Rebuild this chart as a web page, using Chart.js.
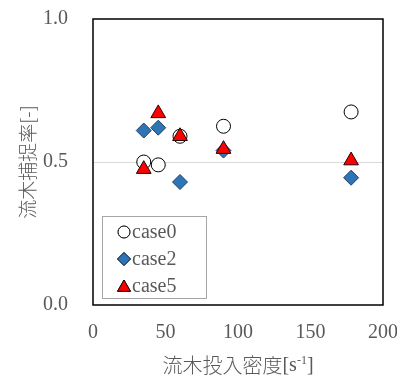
<!DOCTYPE html>
<html>
<head>
<meta charset="utf-8">
<script src="https://cdn.jsdelivr.net/npm/chart.js@4/dist/chart.umd.min.js"></script>
<style>
  html, body { margin: 0; padding: 0; background: #fff; }
  #wrap { width: 397px; height: 376px; }
</style>
</head>
<body>
<div id="wrap"><canvas id="c" width="397" height="376"></canvas></div>
<script>
// Debris input density [1/s] for each run
const density = [35, 45, 60, 90, 178];
// Capture ratio per case
const case0 = [0.50, 0.49, 0.59, 0.625, 0.675];
const case2 = [0.61, 0.62, 0.43, 0.54, 0.445];
const case5 = [0.475, 0.67, 0.59, 0.545, 0.505];
const seriesNames = ['case0', 'case2', 'case5'];
const yTicks = [0, 0.5, 1.0];
const xTicks = [0, 50, 100, 150, 200];

const textGray = '#595959';
const serif = '"Liberation Serif", "Times New Roman", serif';
const cjk = '"Noto Sans CJK JP", "Noto Sans CJK SC", sans-serif';

function pts(ys) { return density.map((x, i) => ({ x: x, y: ys[i] })); }

// Frame around the plotting area
const framePlugin = {
  id: 'frame',
  afterDatasetsDraw(chart) {
    const { ctx, chartArea: a } = chart;
    ctx.save();
    ctx.strokeStyle = '#000';
    ctx.lineWidth = 1.5;
    ctx.strokeRect(a.left, a.top, a.right - a.left, a.bottom - a.top);
    ctx.restore();
  }
};

// Boxed legend placed in the lower-left corner of the plot
const boxLegend = {
  id: 'boxLegend',
  afterDraw(chart) {
    const { ctx, chartArea: a } = chart;
    const bx = a.left + 9, by = a.bottom - 89, bw = 104, bh = 82;
    ctx.save();
    ctx.fillStyle = '#fff';
    ctx.fillRect(bx, by, bw, bh);
    ctx.strokeStyle = '#a6a6a6';
    ctx.lineWidth = 1;
    ctx.strokeRect(bx + 0.5, by + 0.5, bw, bh);
    const sizes = [6, 6.5, 7.5];
    // legend follows the series order, not the drawing order
    const list = seriesNames.map(n => chart.data.datasets.find(d => d.label === n));
    list.forEach((ds, i) => {
      const cy = by + 16 + i * 27;
      const cx = bx + 22;
      Chart.helpers.drawPoint(ctx, {
        pointStyle: ds.pointStyle,
        radius: sizes[i],
        borderWidth: ds.borderWidth,
        rotation: 0
      }, cx, cy + (ds.pointStyle === 'triangle' ? 1.5 : 0));
      ctx.fillStyle = ds.backgroundColor;
      ctx.strokeStyle = ds.borderColor;
      ctx.lineWidth = ds.borderWidth;
      ctx.fill();
      ctx.stroke();
      ctx.fillStyle = textGray;
      ctx.font = '20px ' + serif;
      ctx.textBaseline = 'middle';
      ctx.textAlign = 'left';
      ctx.fillText(ds.label, cx + 8, cy + 1);
    });
    ctx.restore();
  }
};

// X-axis title with a superscript unit
const xTitle = {
  id: 'xTitle',
  afterDraw(chart) {
    const { ctx, chartArea: a } = chart;
    const main = '流木投入密度';
    ctx.save();
    ctx.fillStyle = textGray;
    ctx.textBaseline = 'middle';
    ctx.textAlign = 'left';
    const fMain = '300 20px ' + cjk;
    const fUnit = '20px ' + serif;
    const fSup = '12px ' + serif;
    ctx.font = fMain; const w1 = ctx.measureText(main).width;
    ctx.font = fUnit; const w2 = ctx.measureText('[s').width;
    ctx.font = fSup; const w3 = ctx.measureText('-1').width;
    ctx.font = fUnit; const w4 = ctx.measureText(']').width;
    const total = w1 + w2 + w3 + w4;
    let x = (a.left + a.right) / 2 - total / 2;
    const mid = 365;
    ctx.font = fMain; ctx.fillText(main, x, mid); x += w1;
    ctx.font = fUnit; ctx.fillText('[s', x, mid + 1); x += w2;
    ctx.font = fSup; ctx.fillText('-1', x, mid - 4); x += w3;
    ctx.font = fUnit; ctx.fillText(']', x, mid + 1);
    ctx.restore();
  }
};

new Chart(document.getElementById('c'), {
  type: 'scatter',
  data: {
    datasets: [
      {
        label: seriesNames[0], data: pts(case0), order: 3,
        pointStyle: 'circle', pointRadius: 7, pointHoverRadius: 7,
        backgroundColor: '#ffffff', borderColor: '#000000', borderWidth: 1
      },
      {
        label: seriesNames[1], data: pts(case2), order: 2,
        pointStyle: 'rectRot', pointRadius: 7.5, pointHoverRadius: 7.5,
        backgroundColor: '#2E75B6', borderColor: '#1F3F66', borderWidth: 1
      },
      {
        label: seriesNames[2], data: pts(case5), order: 1,
        pointStyle: 'triangle', pointRadius: 8.5, pointHoverRadius: 8.5,
        backgroundColor: '#FF0000', borderColor: '#2a0000', borderWidth: 1
      }
    ]
  },
  options: {
    responsive: false,
    animation: false,
    layout: { padding: { top: 19, right: 14, left: 0, bottom: 0 } },
    plugins: { legend: { display: false }, tooltip: { enabled: false } },
    scales: {
      x: {
        type: 'linear', min: 0, max: 200,
        afterBuildTicks(s) { s.ticks = xTicks.map(v => ({ value: v })); },
        afterFit(s) { s.height = 71; s.paddingLeft = 0; s.paddingRight = 0; },
        grid: { display: false, drawTicks: false },
        border: { display: false },
        ticks: {
          padding: 16, color: textGray, font: { family: serif, size: 20 },
          maxRotation: 0, callback: v => String(v)
        }
      },
      y: {
        type: 'linear', min: 0, max: 1,
        afterBuildTicks(s) { s.ticks = yTicks.map(v => ({ value: v })); },
        afterFit(s) { s.width = 93; s.paddingTop = 0; s.paddingBottom = 0; },
        grid: {
          drawTicks: false,
          color: c => (c.tick && c.tick.value === 0.5) ? '#d9d9d9' : 'rgba(0,0,0,0)',
          lineWidth: 1
        },
        border: { display: false },
        ticks: {
          padding: 25, color: textGray, font: { family: serif, size: 20 },
          callback: v => Number(v).toFixed(1)
        },
        title: {
          display: true, text: '流木捕捉率[-]', color: textGray,
          font: { family: cjk, size: 19, weight: '300' },
          padding: { top: 16, bottom: 0 }
        }
      }
    }
  },
  plugins: [framePlugin, boxLegend, xTitle]
});
</script>
</body>
</html>
